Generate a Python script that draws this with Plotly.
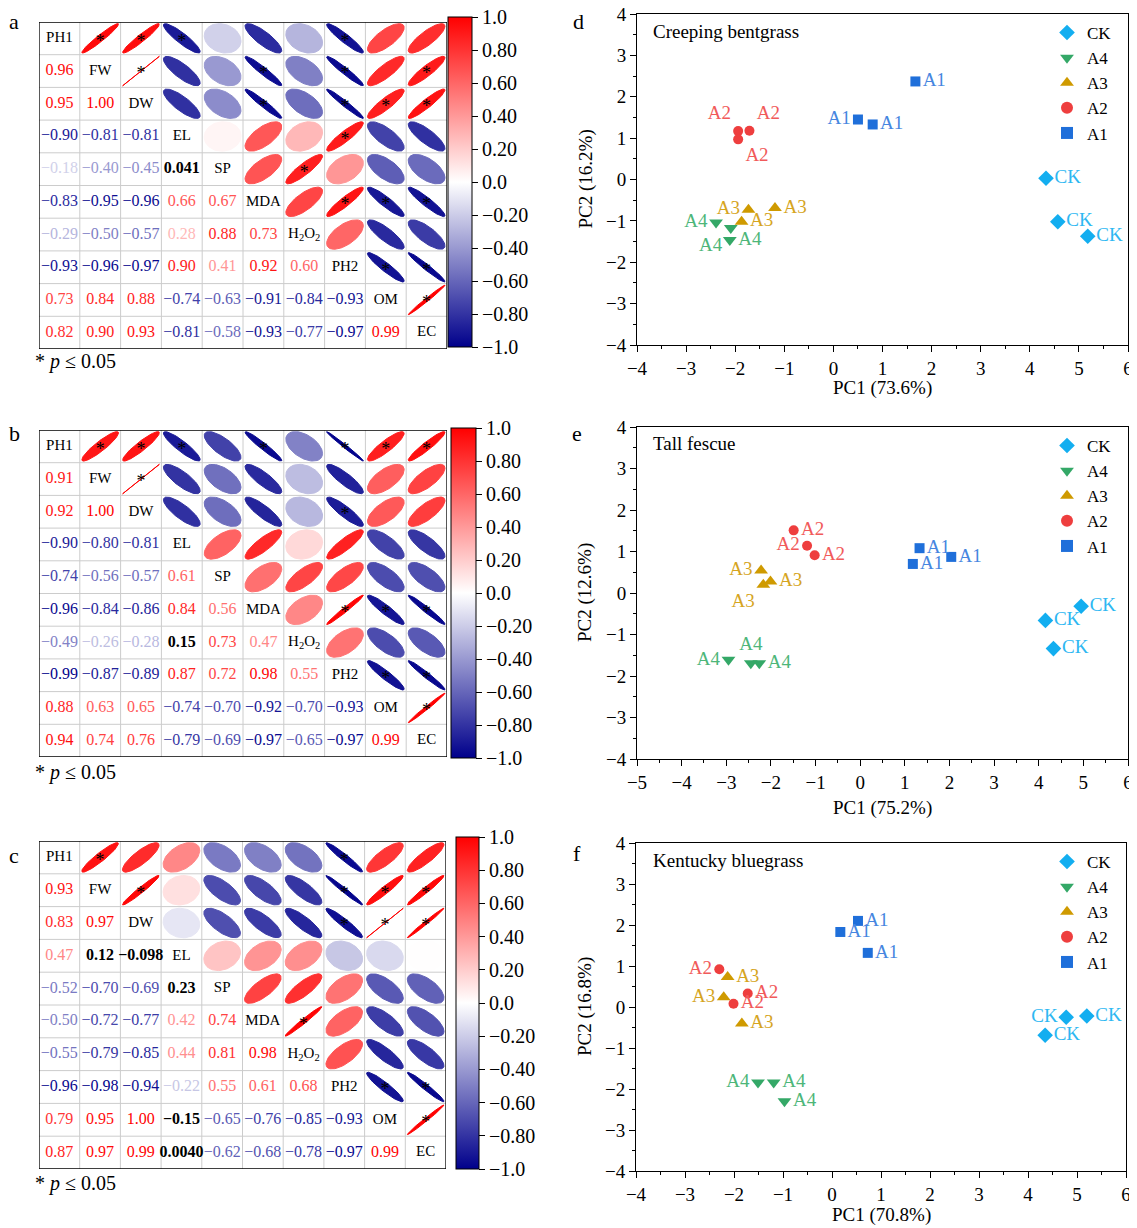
import numpy as np
import plotly.graph_objects as go

W, H = 1137, 1228
OFF = 8  # the page body margin: the figure is drawn 8px from the top-left corner
FW_, FH_ = W - OFF, H - OFF
FONT = "Liberation Serif, Times New Roman, serif"

# ---------------- correlation matrices ----------------
variables = ["PH1", "FW", "DW", "EL", "SP", "MDA", "H<sub>2</sub>O<sub>2</sub>", "PH2", "OM", "EC"]

# lower triangle (row i, columns 0..i-1)
corr_bentgrass = [
    [],
    [0.96],
    [0.95, 1.00],
    [-0.90, -0.81, -0.81],
    [-0.18, -0.40, -0.45, 0.041],
    [-0.83, -0.95, -0.96, 0.66, 0.67],
    [-0.29, -0.50, -0.57, 0.28, 0.88, 0.73],
    [-0.93, -0.96, -0.97, 0.90, 0.41, 0.92, 0.60],
    [0.73, 0.84, 0.88, -0.74, -0.63, -0.91, -0.84, -0.93],
    [0.82, 0.90, 0.93, -0.81, -0.58, -0.93, -0.77, -0.97, 0.99],
]
corr_fescue = [
    [],
    [0.91],
    [0.92, 1.00],
    [-0.90, -0.80, -0.81],
    [-0.74, -0.56, -0.57, 0.61],
    [-0.96, -0.84, -0.86, 0.84, 0.56],
    [-0.49, -0.26, -0.28, 0.15, 0.73, 0.47],
    [-0.99, -0.87, -0.89, 0.87, 0.72, 0.98, 0.55],
    [0.88, 0.63, 0.65, -0.74, -0.70, -0.92, -0.70, -0.93],
    [0.94, 0.74, 0.76, -0.79, -0.69, -0.97, -0.65, -0.97, 0.99],
]
corr_bluegrass = [
    [],
    [0.93],
    [0.83, 0.97],
    [0.47, 0.12, -0.098],
    [-0.52, -0.70, -0.69, 0.23],
    [-0.50, -0.72, -0.77, 0.42, 0.74],
    [-0.55, -0.79, -0.85, 0.44, 0.81, 0.98],
    [-0.96, -0.98, -0.94, -0.22, 0.55, 0.61, 0.68],
    [0.79, 0.95, 1.00, -0.15, -0.65, -0.76, -0.85, -0.93],
    [0.87, 0.97, 0.99, 0.0040, -0.62, -0.68, -0.78, -0.97, 0.99],
]

# significant pairs (row, col) in the upper triangle, p <= 0.05
sig_bentgrass = [(0, 1), (0, 2), (0, 3), (0, 7), (1, 2), (1, 5), (1, 7), (1, 9), (2, 5), (2, 7),
                 (2, 8), (2, 9), (3, 7), (4, 6), (5, 7), (5, 8), (5, 9), (7, 8), (7, 9), (8, 9)]
sig_fescue = [(0, 1), (0, 2), (0, 3), (0, 5), (0, 7), (0, 8), (0, 9), (1, 2), (2, 7), (5, 7),
              (5, 8), (5, 9), (7, 8), (7, 9), (8, 9)]
sig_bluegrass = [(0, 1), (0, 7), (1, 2), (1, 7), (1, 8), (1, 9), (2, 7), (2, 8), (2, 9), (5, 6),
                 (7, 8), (7, 9), (8, 9)]

# lower-triangle cells printed in bold black
black_bentgrass = [(4, 3)]
black_fescue = [(6, 3)]
black_bluegrass = [(3, 1), (3, 2), (4, 3), (8, 3), (9, 3)]

cbar_ticks = [1.0, 0.8, 0.6, 0.4, 0.2, 0.0, -0.2, -0.4, -0.6, -0.8, -1.0]
cbar_ticktext = ["1.0", "0.80", "0.60", "0.40", "0.20", "0.0", "−0.20", "−0.40", "−0.60", "−0.80", "−1.0"]

# ---------------- PCA scores ----------------
bent_group = ["CK"] * 3 + ["A1"] * 3 + ["A2"] * 3 + ["A3"] * 3 + ["A4"] * 3
bent_pc1 = [4.33, 4.57, 5.18, 1.67, 0.50, 0.80, -1.94, -1.71, -1.94, -1.73, -1.19, -1.87, -2.39, -2.09, -2.11]
bent_pc2 = [0.03, -1.02, -1.37, 2.37, 1.45, 1.33, 1.17, 1.18, 0.97, -0.73, -0.69, -1.02, -1.04, -1.17, -1.46]

fescue_group = ["CK"] * 3 + ["A1"] * 3 + ["A2"] * 3 + ["A3"] * 3 + ["A4"] * 3
fescue_pc1 = [4.95, 4.15, 4.33, 1.33, 1.18, 2.04, -1.49, -1.19, -1.02, -2.22, -2.01, -2.17, -2.95, -2.45, -2.26]
fescue_pc2 = [-0.32, -0.66, -1.34, 1.08, 0.70, 0.87, 1.51, 1.14, 0.91, 0.54, 0.28, 0.20, -1.61, -1.69, -1.69]

blue_group = ["CK"] * 3 + ["A1"] * 3 + ["A2"] * 3 + ["A3"] * 3 + ["A4"] * 3
blue_pc1 = [4.78, 5.20, 4.35, 0.53, 0.17, 0.73, -2.30, -1.72, -2.01, -2.13, -2.21, -1.84, -1.51, -1.19, -0.97]
blue_pc2 = [-0.25, -0.22, -0.69, 2.10, 1.83, 1.32, 0.92, 0.33, 0.08, 0.73, 0.24, -0.40, -1.84, -1.84, -2.30]

group_order = ["CK", "A4", "A3", "A2", "A1"]

# ---------------- styles ----------------
bent_textpos = ["middle right", "middle right", "middle right", "middle right", "middle left", "middle right",
                "top left", "top right", "bottom right", "middle left", "middle right", "middle right",
                "middle left", "bottom left", "middle right"]
fescue_textpos = ["middle right", "middle right", "middle right", "middle right", "middle right", "middle right",
                  "middle right", "middle left", "middle right", "middle left", "middle right", "bottom left",
                  "middle left", "top center", "middle right"]
blue_textpos = ["middle left", "middle right", "middle right", "middle right", "middle right", "middle right",
                "middle left", "middle right", "middle right", "middle right", "middle left", "middle right",
                "middle left", "middle right", "middle right"]

marker_style = {
    "CK": dict(symbol="diamond", color="#13AEF0", size=12),
    "A4": dict(symbol="triangle-down", color="#34A867", size=12),
    "A3": dict(symbol="triangle-up", color="#CF9A00", size=12),
    "A2": dict(symbol="circle", color="#EE3E3E", size=10),
    "A1": dict(symbol="square", color="#1F6FDA", size=10),
}
label_color = {"CK": "#2DB7F2", "A4": "#4DB679", "A3": "#D6A51F", "A2": "#F15A5A", "A1": "#4686E0"}

NAVY = (0, 0, 139)
RED = (255, 0, 0)
COLORSCALE = [[0, "rgb(0,0,139)"], [0.5, "rgb(255,255,255)"], [1, "rgb(255,0,0)"]]


def corr_color(r):
    t = min(abs(r), 1.0)
    end = RED if r >= 0 else NAVY
    c = [round(255 + (e - 255) * t) for e in end]
    return f"rgb({c[0]},{c[1]},{c[2]})"


def fmt(r):
    a = abs(r)
    if a >= 0.1 or a == 0:
        s = f"{a:.2f}"
    else:
        p = 1 - int(np.floor(np.log10(a)))
        s = f"{a:.{p}f}"
    return ("−" if r < 0 else "") + s


fig = go.Figure()
layout = dict(width=FW_, height=FH_, margin=dict(l=0, r=0, t=0, b=0, autoexpand=False),
              paper_bgcolor="white", plot_bgcolor="white", showlegend=True,
              font=dict(family=FONT, color="black"))
shapes, annotations = [], []


def px_x(x):
    return (x - OFF) / FW_


def px_y(y):
    return 1 - (y - OFF) / FH_


def ax_names(k):
    s = "" if k == 1 else str(k)
    return "x" + s, "y" + s, "xaxis" + s, "yaxis" + s


# matrix placement (pixels): grid box and colour bar box
matrix_specs = [
    (corr_bentgrass, sig_bentgrass, black_bentgrass, (39, 22, 447, 349), (448, 17, 472, 347)),
    (corr_fescue, sig_fescue, black_fescue, (39, 430, 447, 757), (451, 428, 476, 758)),
    (corr_bluegrass, sig_bluegrass, black_bluegrass, (39, 841, 446, 1169), (456, 837, 479, 1169)),
]

tt = np.linspace(0, 2 * np.pi, 73)
n = len(variables)
for k, (corr, sig, blk, box, cb) in enumerate(matrix_specs, start=1):
    xr, yr, xa, ya = ax_names(k)
    x0, y0, x1, y1 = box
    layout[xa] = dict(domain=[px_x(x0), px_x(x1)], range=[0, n], visible=False, fixedrange=True)
    layout[ya] = dict(domain=[px_y(y1), px_y(y0)], range=[n, 0], visible=False, fixedrange=True)
    # grid
    for g in range(1, n):
        shapes.append(dict(type="line", xref=xr, yref=yr, x0=g, x1=g, y0=0, y1=n,
                           line=dict(color="#cccccc", width=1), layer="below"))
        shapes.append(dict(type="line", xref=xr, yref=yr, x0=0, x1=n, y0=g, y1=g,
                           line=dict(color="#cccccc", width=1), layer="below"))
    shapes.append(dict(type="rect", xref=xr, yref=yr, x0=0, x1=n, y0=0, y1=n,
                       line=dict(color="black", width=1.3)))
    # ellipses (upper triangle)
    for i in range(n):
        for j in range(i + 1, n):
            r = corr[j][i]
            d = np.arccos(np.clip(r, -1, 1))
            ex = j + 0.5 + 0.9 * np.cos(tt + d / 2) / 2
            ey = i + 0.5 - 0.9 * np.cos(tt - d / 2) / 2
            col = corr_color(r)
            fig.add_trace(go.Scatter(x=ex, y=ey, mode="lines", fill="toself", fillcolor=col,
                                     line=dict(color=col, width=1), xaxis=xr, yaxis=yr,
                                     hoverinfo="skip", showlegend=False))
    # numbers (lower triangle)
    nx, ny, nt, nc = [], [], [], []
    for i in range(n):
        for j in range(i):
            r = corr[i][j]
            nx.append(j + 0.5)
            ny.append(i + 0.5)
            if (i, j) in blk:
                nt.append("<b>" + fmt(r) + "</b>")
                nc.append("black")
            else:
                nt.append(fmt(r))
                nc.append(corr_color(r))
    fig.add_trace(go.Scatter(x=nx, y=ny, text=nt, mode="text", textposition="middle center",
                             textfont=dict(family=FONT, size=16, color=nc),
                             xaxis=xr, yaxis=yr, hoverinfo="skip", showlegend=False))
    # diagonal names
    fig.add_trace(go.Scatter(x=[i + 0.5 for i in range(n)], y=[i + 0.5 for i in range(n)],
                             text=variables, mode="text", textposition="middle center",
                             textfont=dict(family=FONT, size=15, color="black"),
                             xaxis=xr, yaxis=yr, hoverinfo="skip", showlegend=False))
    # significance stars
    fig.add_trace(go.Scatter(x=[j + 0.5 for (i, j) in sig], y=[i + 0.62 for (i, j) in sig],
                             text=["*"] * len(sig), mode="text", textposition="middle center",
                             textfont=dict(family=FONT, size=18, color="black"),
                             xaxis=xr, yaxis=yr, hoverinfo="skip", showlegend=False))
    # colour bar
    cx0, cy0, cx1, cy1 = cb
    fig.add_trace(go.Scatter(
        x=[0.5, 0.5], y=[0.5, 0.5], mode="markers", xaxis=xr, yaxis=yr, hoverinfo="skip",
        showlegend=False,
        marker=dict(color=[-1, 1], cmin=-1, cmax=1, colorscale=COLORSCALE, opacity=0, size=1,
                    showscale=True,
                    colorbar=dict(x=px_x(cx0), xanchor="left", y=px_y(cy0), yanchor="top",
                                  len=cy1 - cy0, lenmode="pixels", thickness=cx1 - cx0,
                                  thicknessmode="pixels", xpad=0, ypad=0,
                                  outlinewidth=1, outlinecolor="black",
                                  tickvals=cbar_ticks, ticktext=cbar_ticktext,
                                  ticks="outside", ticklen=6, tickcolor="black",
                                  ticklabeloverflow="allow",
                                  tickfont=dict(family=FONT, size=20, color="black")))))

# ---------------- PCA panels ----------------
pca_specs = [
    (bent_group, bent_pc1, bent_pc2, bent_textpos, [-4, 6], (637, 14, 1128, 345),
     "Creeping bentgrass", "PC1 (73.6%)", "PC2 (16.2%)", 388),
    (fescue_group, fescue_pc1, fescue_pc2, fescue_textpos, [-5, 6], (637, 427, 1128, 759),
     "Tall fescue", "PC1 (75.2%)", "PC2 (12.6%)", 808),
    (blue_group, blue_pc1, blue_pc2, blue_textpos, [-4, 6], (636, 843, 1126, 1171),
     "Kentucky bluegrass", "PC1 (70.8%)", "PC2 (16.8%)", 1215),
]

for m, (grp, pc1, pc2, tpos, xrange_, box, title, xt, yt, xty) in enumerate(pca_specs):
    k = 4 + m
    xr, yr, xa, ya = ax_names(k)
    legname = "legend" if m == 0 else f"legend{m + 1}"
    x0, y0, x1, y1 = box
    axis_common = dict(showline=True, linecolor="black", linewidth=1, mirror=True, showgrid=False,
                       zeroline=False, ticks="outside", ticklen=6, tickwidth=1, tickcolor="black",
                       dtick=1, tickfont=dict(family=FONT, size=19, color="black"), fixedrange=True,
                       ticklabeloverflow="allow",
                       minor=dict(ticks="outside", ticklen=3, dtick=0.5, tickcolor="black", showgrid=False))
    layout[xa] = dict(domain=[px_x(x0), px_x(x1)], range=xrange_, anchor=yr, **axis_common)
    layout[ya] = dict(domain=[px_y(y1), px_y(y0)], range=[-4, 4], anchor=xr, **axis_common)
    for g in group_order:
        idx = [i for i, gg in enumerate(grp) if gg == g]
        st = marker_style[g]
        fig.add_trace(go.Scatter(
            x=[pc1[i] for i in idx], y=[pc2[i] for i in idx], mode="markers", name=g,
            marker=dict(symbol=st["symbol"], color=st["color"], size=st["size"], line=dict(width=0)),
            xaxis=xr, yaxis=yr, legend=legname, hoverinfo="skip"))
        fig.add_trace(go.Scatter(
            x=[pc1[i] for i in idx], y=[pc2[i] for i in idx], mode="markers+text",
            text=[g] * len(idx), textposition=[tpos[i] for i in idx],
            marker=dict(symbol=st["symbol"], size=st["size"], opacity=0),
            textfont=dict(family=FONT, size=19, color=label_color[g]),
            xaxis=xr, yaxis=yr, showlegend=False, hoverinfo="skip", cliponaxis=False))
    layout[legname] = dict(x=px_x(1047), xanchor="left", y=px_y(y0 + 1), yanchor="top",
                           bgcolor="rgba(0,0,0,0)", font=dict(family=FONT, size=17, color="black"),
                           tracegroupgap=0, itemsizing="constant", traceorder="normal")
    annotations.append(dict(xref=xa.replace("axis", "") + " domain", yref=yr + " domain",
                            x=(651 - x0) / (x1 - x0), y=1 - 17 / (y1 - y0), xanchor="left",
                            yanchor="middle", text=title, showarrow=False,
                            font=dict(family=FONT, size=19, color="black")))
    annotations.append(dict(xref="paper", yref="paper", x=px_x((x0 + x1) / 2), y=px_y(xty),
                            xanchor="center", yanchor="middle", text=xt, showarrow=False,
                            font=dict(family=FONT, size=19, color="black")))
    annotations.append(dict(xref="paper", yref="paper", x=px_x(585), y=px_y((y0 + y1) / 2),
                            xanchor="center", yanchor="middle", text=yt, textangle=-90,
                            showarrow=False, font=dict(family=FONT, size=19, color="black")))

# panel letters and significance notes
for letter, (lx, ly) in zip("abcdef", [(14, 22), (14, 433), (14, 855), (578, 22), (577, 433), (577, 853)]):
    annotations.append(dict(xref="paper", yref="paper", x=px_x(lx), y=px_y(ly), text=letter,
                            showarrow=False, xanchor="center", yanchor="middle",
                            font=dict(family=FONT, size=22, color="black")))
for ny_ in [362, 772, 1183]:
    annotations.append(dict(xref="paper", yref="paper", x=px_x(33), y=px_y(ny_),
                            text="* <i>p</i> ≤ 0.05", showarrow=False, xanchor="left",
                            yanchor="middle", font=dict(family=FONT, size=20, color="black")))

layout["shapes"] = shapes
layout["annotations"] = annotations
fig.update_layout(**layout)
fig.write_html("out.html")
